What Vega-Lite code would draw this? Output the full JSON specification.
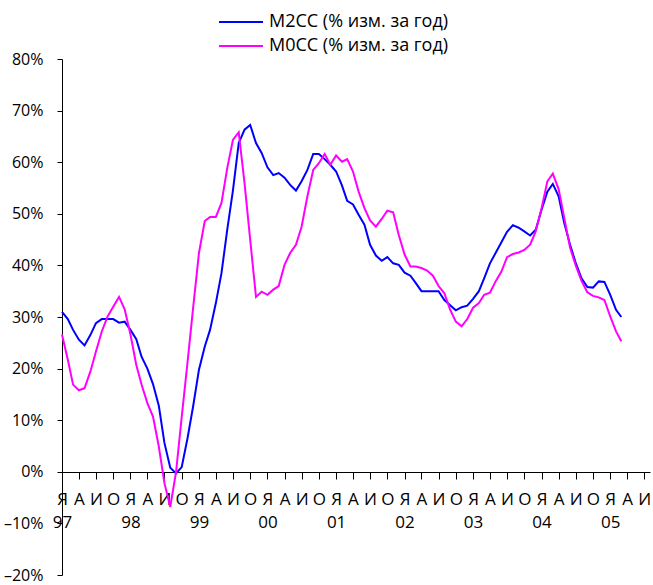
{
  "$schema": "https://vega.github.io/schema/vega-lite/v6.json",
  "width": 588,
  "height": 516,
  "autosize": {"type": "none"},
  "padding": {"left": 62, "top": 59, "right": 3, "bottom": 10},
  "background": "white",
  "config": {"font": "Open Sans", "view": {"stroke": null}, "axis": {"grid": false}},
  "data": {"values": [
    {"date": "1997-01-01", "m2": 31.0, "m0": 26.6},
    {"date": "1997-02-01", "m2": 29.6, "m0": 21.7},
    {"date": "1997-03-01", "m2": 27.5, "m0": 16.9},
    {"date": "1997-04-01", "m2": 25.6, "m0": 15.8},
    {"date": "1997-05-01", "m2": 24.5, "m0": 16.2},
    {"date": "1997-06-01", "m2": 26.5, "m0": 19.4},
    {"date": "1997-07-01", "m2": 28.8, "m0": 23.3},
    {"date": "1997-08-01", "m2": 29.6, "m0": 27.2},
    {"date": "1997-09-01", "m2": 29.6, "m0": 30.1},
    {"date": "1997-10-01", "m2": 29.6, "m0": 32.0},
    {"date": "1997-11-01", "m2": 28.9, "m0": 33.9},
    {"date": "1997-12-01", "m2": 29.1, "m0": 31.5},
    {"date": "1998-01-01", "m2": 27.5, "m0": 26.6},
    {"date": "1998-02-01", "m2": 25.7, "m0": 20.7},
    {"date": "1998-03-01", "m2": 22.3, "m0": 16.9},
    {"date": "1998-04-01", "m2": 20.0, "m0": 13.3},
    {"date": "1998-05-01", "m2": 17.0, "m0": 10.7},
    {"date": "1998-06-01", "m2": 12.8, "m0": 4.9},
    {"date": "1998-07-01", "m2": 5.6, "m0": -2.2},
    {"date": "1998-08-01", "m2": 0.8, "m0": -6.8},
    {"date": "1998-09-01", "m2": -0.3, "m0": 0.0},
    {"date": "1998-10-01", "m2": 0.9, "m0": 10.6},
    {"date": "1998-11-01", "m2": 6.5, "m0": 21.2},
    {"date": "1998-12-01", "m2": 12.7, "m0": 31.8},
    {"date": "1999-01-01", "m2": 19.8, "m0": 42.4},
    {"date": "1999-02-01", "m2": 24.3, "m0": 48.6},
    {"date": "1999-03-01", "m2": 27.5, "m0": 49.4},
    {"date": "1999-04-01", "m2": 32.7, "m0": 49.4},
    {"date": "1999-05-01", "m2": 38.5, "m0": 52.1},
    {"date": "1999-06-01", "m2": 47.0, "m0": 58.9},
    {"date": "1999-07-01", "m2": 54.5, "m0": 64.3},
    {"date": "1999-08-01", "m2": 63.7, "m0": 65.8},
    {"date": "1999-09-01", "m2": 66.3, "m0": 55.9},
    {"date": "1999-10-01", "m2": 67.2, "m0": 45.0},
    {"date": "1999-11-01", "m2": 63.7, "m0": 33.9},
    {"date": "1999-12-01", "m2": 61.8, "m0": 34.9},
    {"date": "2000-01-01", "m2": 59.0, "m0": 34.3},
    {"date": "2000-02-01", "m2": 57.5, "m0": 35.3},
    {"date": "2000-03-01", "m2": 57.9, "m0": 36.0},
    {"date": "2000-04-01", "m2": 57.0, "m0": 40.1},
    {"date": "2000-05-01", "m2": 55.6, "m0": 42.4},
    {"date": "2000-06-01", "m2": 54.5, "m0": 44.0},
    {"date": "2000-07-01", "m2": 56.3, "m0": 47.5},
    {"date": "2000-08-01", "m2": 58.5, "m0": 53.4},
    {"date": "2000-09-01", "m2": 61.6, "m0": 58.5},
    {"date": "2000-10-01", "m2": 61.6, "m0": 59.8},
    {"date": "2000-11-01", "m2": 60.6, "m0": 61.6},
    {"date": "2000-12-01", "m2": 59.5, "m0": 59.5},
    {"date": "2001-01-01", "m2": 58.2, "m0": 61.3},
    {"date": "2001-02-01", "m2": 55.5, "m0": 60.1},
    {"date": "2001-03-01", "m2": 52.5, "m0": 60.6},
    {"date": "2001-04-01", "m2": 51.8, "m0": 58.2},
    {"date": "2001-05-01", "m2": 49.8, "m0": 54.3},
    {"date": "2001-06-01", "m2": 47.9, "m0": 51.1},
    {"date": "2001-07-01", "m2": 44.0, "m0": 48.7},
    {"date": "2001-08-01", "m2": 41.9, "m0": 47.5},
    {"date": "2001-09-01", "m2": 40.9, "m0": 49.0},
    {"date": "2001-10-01", "m2": 41.6, "m0": 50.6},
    {"date": "2001-11-01", "m2": 40.4, "m0": 50.3},
    {"date": "2001-12-01", "m2": 40.1, "m0": 45.9},
    {"date": "2002-01-01", "m2": 38.6, "m0": 42.1},
    {"date": "2002-02-01", "m2": 38.0, "m0": 39.8},
    {"date": "2002-03-01", "m2": 36.6, "m0": 39.8},
    {"date": "2002-04-01", "m2": 35.0, "m0": 39.5},
    {"date": "2002-05-01", "m2": 35.0, "m0": 39.0},
    {"date": "2002-06-01", "m2": 35.0, "m0": 38.0},
    {"date": "2002-07-01", "m2": 35.0, "m0": 36.0},
    {"date": "2002-08-01", "m2": 33.3, "m0": 34.6},
    {"date": "2002-09-01", "m2": 32.3, "m0": 31.4},
    {"date": "2002-10-01", "m2": 31.3, "m0": 29.1},
    {"date": "2002-11-01", "m2": 31.9, "m0": 28.2},
    {"date": "2002-12-01", "m2": 32.2, "m0": 29.6},
    {"date": "2003-01-01", "m2": 33.5, "m0": 31.8},
    {"date": "2003-02-01", "m2": 35.0, "m0": 32.7},
    {"date": "2003-03-01", "m2": 37.5, "m0": 34.3},
    {"date": "2003-04-01", "m2": 40.4, "m0": 34.7},
    {"date": "2003-05-01", "m2": 42.4, "m0": 36.9},
    {"date": "2003-06-01", "m2": 44.5, "m0": 38.8},
    {"date": "2003-07-01", "m2": 46.5, "m0": 41.6},
    {"date": "2003-08-01", "m2": 47.8, "m0": 42.2},
    {"date": "2003-09-01", "m2": 47.3, "m0": 42.5},
    {"date": "2003-10-01", "m2": 46.6, "m0": 43.0},
    {"date": "2003-11-01", "m2": 45.8, "m0": 44.0},
    {"date": "2003-12-01", "m2": 46.9, "m0": 46.6},
    {"date": "2004-01-01", "m2": 50.8, "m0": 51.1},
    {"date": "2004-02-01", "m2": 54.3, "m0": 56.3},
    {"date": "2004-03-01", "m2": 55.8, "m0": 57.8},
    {"date": "2004-04-01", "m2": 53.4, "m0": 54.8},
    {"date": "2004-05-01", "m2": 48.2, "m0": 49.2},
    {"date": "2004-06-01", "m2": 44.0, "m0": 43.4},
    {"date": "2004-07-01", "m2": 40.5, "m0": 40.0},
    {"date": "2004-08-01", "m2": 37.5, "m0": 37.0},
    {"date": "2004-09-01", "m2": 35.8, "m0": 34.8},
    {"date": "2004-10-01", "m2": 35.7, "m0": 34.1},
    {"date": "2004-11-01", "m2": 36.9, "m0": 33.8},
    {"date": "2004-12-01", "m2": 36.8, "m0": 33.3},
    {"date": "2005-01-01", "m2": 34.3, "m0": 30.1},
    {"date": "2005-02-01", "m2": 31.4, "m0": 27.2},
    {"date": "2005-03-01", "m2": 30.0, "m0": 25.3}
  ]},
  "transform": [{"fold": ["m2", "m0"], "as": ["series", "value"]}],
  "mark": {"type": "line", "strokeWidth": 2},
  "encoding": {
    "x": {
      "field": "date",
      "type": "temporal",
      "scale": {"type": "utc", "domain": [{"year": 1997, "month": 1, "date": 1, "utc": true}, {"year": 2005, "month": 8, "date": 1, "utc": true}]},
      "axis": {
        "orient": "bottom",
        "offset": -103,
        "title": null,
        "tickCount": {"interval": "month", "step": 3},
        "labelExpr": "[['Я','А','И','О'][floor(utcmonth(datum.value)/3)], utcmonth(datum.value) == 0 ? substring('' + utcyear(datum.value), 2) : '']",
        "labelLineHeight": 23,
        "labelFontSize": 17,
        "labelColor": "black",
        "labelAngle": 0,
        "labelBaseline": "top",
        "labelPadding": 12,
        "labelOverlap": false,
        "labelFlush": false,
        "labelBound": false,
        "tickSize": 7,
        "tickColor": "black",
        "tickWidth": 1,
        "domainColor": "black",
        "domainWidth": 1
      }
    },
    "y": {
      "field": "value",
      "type": "quantitative",
      "scale": {"domain": [-20, 80], "nice": false, "zero": false},
      "axis": {
        "title": null,
        "values": [-20, -10, 0, 10, 20, 30, 40, 50, 60, 70, 80],
        "labelExpr": "(datum.value < 0 ? '–' + abs(datum.value) : datum.value) + '%'",
        "labelFontSize": 16,
        "labelColor": "black",
        "labelPadding": 14,
        "labelFlush": false,
        "tickSize": 5,
        "tickColor": "black",
        "domainColor": "black"
      }
    },
    "color": {
      "field": "series",
      "type": "nominal",
      "scale": {"domain": ["m2", "m0"], "range": ["#0000FF", "#FF00FF"]},
      "legend": {
        "orient": "none",
        "legendX": 156,
        "legendY": -49,
        "title": null,
        "symbolType": "stroke",
        "symbolSize": 1936,
        "symbolStrokeWidth": 2,
        "labelFontSize": 18,
        "labelColor": "black",
        "labelOffset": 5,
        "labelLimit": 0,
        "clipHeight": 24,
        "rowPadding": 0,
        "labelExpr": "datum.value == 'm2' ? 'M2CC (% изм. за год)' : 'M0CC (% изм. за год)'"
      }
    }
  }
}
